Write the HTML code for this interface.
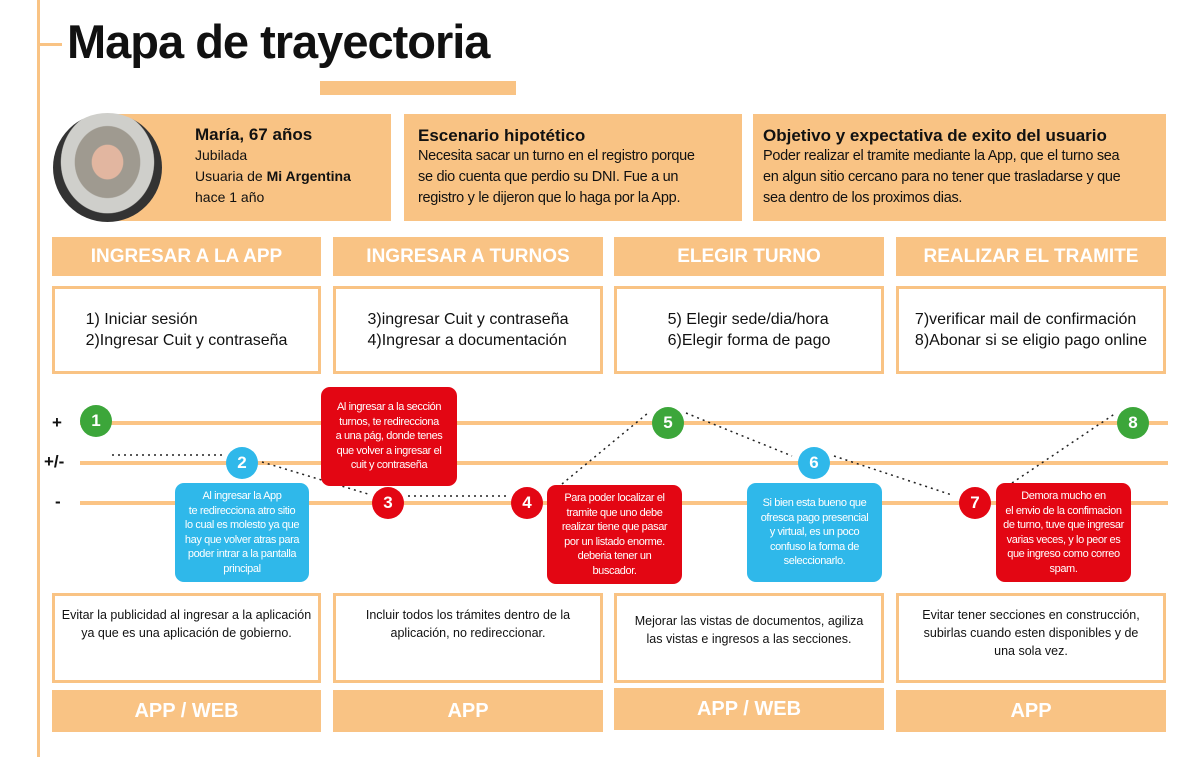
<!DOCTYPE html>
<html><head><meta charset="utf-8"><style>
*{margin:0;padding:0;box-sizing:border-box}
body{width:1200px;height:757px;background:#fff;position:relative;overflow:hidden;font-family:"Liberation Sans",sans-serif;color:#111}
.a{position:absolute}
.or{background:#f9c384}
.hd{position:absolute;background:#f9c384;color:#fff;font-weight:bold;font-size:19px;text-align:center;line-height:39px;top:237px;height:39px}
.st{position:absolute;top:286px;height:88px;border:3px solid #f9c384;font-size:16px;line-height:21px;display:flex;align-items:center;justify-content:center;text-align:left}
.bt{position:absolute;top:593px;height:90px;border:3px solid #f9c384;font-size:12.5px;line-height:18px;text-align:center;padding-top:10px}
.bb{position:absolute;top:690px;height:42px;background:#f9c384;color:#fff;font-weight:bold;font-size:20px;text-align:center;line-height:42px}
.ln{position:absolute;left:80px;width:1088px;height:4px;background:#fbc485}
.c{position:absolute;width:32px;height:32px;border-radius:50%;color:#fff;font-weight:bold;font-size:17px;text-align:center;line-height:32px}
.g{background:#3ca63a}.r{background:#e30613}.b{background:#2fb8ea}
.co{position:absolute;border-radius:9px;color:#fff;font-size:11px;line-height:14.5px;text-align:center;display:flex;align-items:center;justify-content:center;white-space:nowrap;letter-spacing:-0.4px}
.lb{position:absolute;font-size:17px;font-weight:bold}
.sc{font-size:14.5px;line-height:21px;white-space:nowrap;letter-spacing:-0.3px}
</style></head><body>
<div class="a" style="left:37px;top:0;width:3px;height:757px;background:#f9c384"></div>
<div class="a" style="left:38px;top:43px;width:24px;height:3px;background:#f9c384"></div>
<div class="a" style="left:67px;top:14px;font-size:47px;font-weight:bold;letter-spacing:-1px">Mapa de trayectoria</div>
<div class="a or" style="left:320px;top:81px;width:196px;height:14px"></div>

<div class="a or" style="left:115px;top:114px;width:276px;height:107px"></div>
<div class="a" style="left:53px;top:113px;width:109px;height:109px;border-radius:50%;background:radial-gradient(ellipse at 50% 45%,#e2b6a0 0 20%,#9f9a90 21% 42%,#cfcfcb 43% 60%,#333 61% 100%)"></div>
<div class="a" style="left:195px;top:125px;font-size:17px;line-height:20px"><b>María, 67  años</b><div style="font-size:14px;line-height:21px">Jubilada<br>Usuaria de <b>Mi Argentina</b><br>hace 1 año</div></div>
<div class="a or" style="left:404px;top:114px;width:338px;height:107px;padding:12px 14px"><b style="font-size:17px">Escenario hipotético</b><div class="sc">Necesita sacar un turno en el registro porque<br>se dio cuenta que perdio su DNI. Fue a un<br>registro y le dijeron que lo haga por la App.</div></div>
<div class="a or" style="left:753px;top:114px;width:413px;height:107px;padding:12px 10px"><b style="font-size:17px">Objetivo y expectativa de exito del usuario</b><div class="sc">Poder realizar el tramite mediante  la App, que el turno sea<br>en algun sitio cercano para no tener que trasladarse y que<br>sea dentro de los proximos dias.</div></div>

<div class="hd" style="left:52px;width:269px">INGRESAR A LA APP</div>
<div class="hd" style="left:333px;width:270px">INGRESAR A TURNOS</div>
<div class="hd" style="left:614px;width:270px">ELEGIR TURNO</div>
<div class="hd" style="left:896px;width:270px">REALIZAR EL TRAMITE</div>

<div class="st" style="left:52px;width:269px"><div>1) Iniciar sesión<br>2)Ingresar Cuit y contraseña</div></div>
<div class="st" style="left:333px;width:270px"><div>3)ingresar Cuit y contraseña<br>4)Ingresar a documentación</div></div>
<div class="st" style="left:614px;width:270px"><div>5) Elegir sede/dia/hora<br>6)Elegir forma de pago</div></div>
<div class="st" style="left:896px;width:270px"><div>7)verificar mail de confirmación<br>8)Abonar si se eligio pago online</div></div>

<div class="lb" style="left:52px;top:413px">+</div>
<div class="lb" style="left:44px;top:452px">+/-</div>
<div class="lb" style="left:55px;top:492px">-</div>
<div class="ln" style="top:421px"></div>
<div class="ln" style="top:461px"></div>
<div class="ln" style="top:501px"></div>

<svg class="a" style="left:0;top:0" width="1200" height="757"><g stroke="#222" stroke-width="1.5" stroke-dasharray="2,4" fill="none">
<line x1="112" y1="455" x2="222" y2="455"/><line x1="262" y1="462" x2="368" y2="494"/>
<line x1="408" y1="496" x2="508" y2="496"/><line x1="562" y1="484" x2="648" y2="413"/>
<line x1="686" y1="413" x2="792" y2="456"/><line x1="834" y1="456" x2="952" y2="495"/>
<line x1="1012" y1="483" x2="1116" y2="413"/></g></svg>

<div class="co r" style="left:321px;top:387px;width:136px;height:99px">Al ingresar a la sección<br>turnos, te redirecciona<br>a una pág, donde tenes<br>que volver a ingresar el<br>cuit y contraseña</div>
<div class="co b" style="left:175px;top:483px;width:134px;height:99px">Al ingresar la App<br>te redirecciona atro sitio<br>lo cual es molesto ya que<br>hay que volver atras para<br>poder intrar a la pantalla<br>principal</div>
<div class="co r" style="left:547px;top:485px;width:135px;height:99px">Para poder localizar el<br>tramite que uno debe<br>realizar tiene que pasar<br>por un listado enorme.<br>deberia tener un<br>buscador.</div>
<div class="co b" style="left:747px;top:483px;width:135px;height:99px">Si bien esta bueno que<br>ofresca pago presencial<br>y virtual, es un poco<br>confuso la forma de<br>seleccionarlo.</div>
<div class="co r" style="left:996px;top:483px;width:135px;height:99px">Demora mucho en<br>el envio de la confimacion<br>de turno, tuve que ingresar<br>varias veces, y lo peor es<br>que ingreso como correo<br>spam.</div>

<div class="c g" style="left:80px;top:405px">1</div>
<div class="c b" style="left:226px;top:447px">2</div>
<div class="c r" style="left:372px;top:487px">3</div>
<div class="c r" style="left:511px;top:487px">4</div>
<div class="c g" style="left:652px;top:407px">5</div>
<div class="c b" style="left:798px;top:447px">6</div>
<div class="c r" style="left:959px;top:487px">7</div>
<div class="c g" style="left:1117px;top:407px">8</div>

<div class="bt" style="left:52px;width:269px">Evitar la publicidad al ingresar a la aplicación ya que es una aplicación de gobierno.</div>
<div class="bt" style="left:333px;width:270px;padding-left:20px;padding-right:20px">Incluir todos los trámites dentro de la aplicación, no redireccionar.</div>
<div class="bt" style="left:614px;width:270px;padding:16px 14px 0">Mejorar las vistas de documentos, agiliza las vistas e ingresos a las secciones.</div>
<div class="bt" style="left:896px;width:270px;padding-left:14px;padding-right:14px">Evitar tener secciones en construcción, subirlas cuando esten disponibles y de una sola vez.</div>

<div class="bb" style="left:52px;width:269px">APP / WEB</div>
<div class="bb" style="left:333px;width:270px">APP</div>
<div class="bb" style="left:614px;width:270px;top:688px">APP / WEB</div>
<div class="bb" style="left:896px;width:270px">APP</div>
</body></html>
